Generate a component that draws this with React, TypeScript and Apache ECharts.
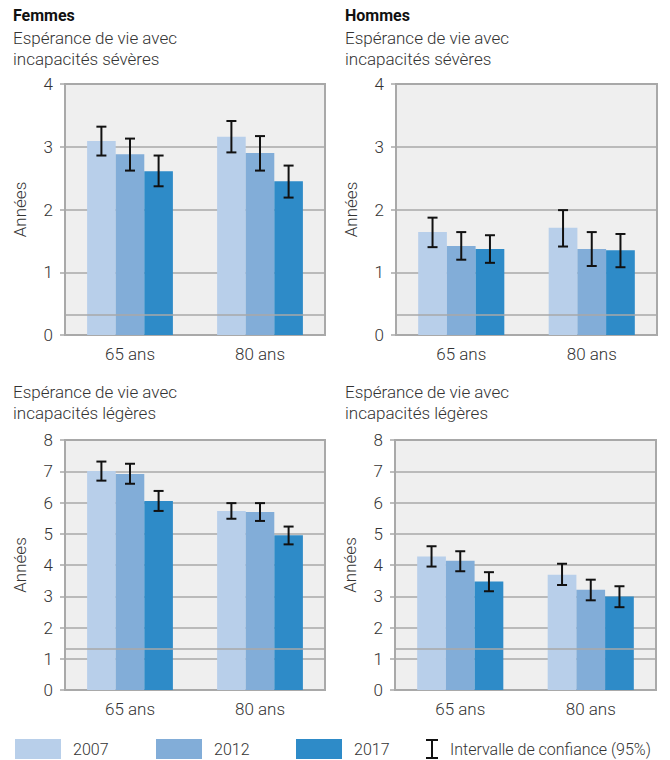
import React, { useEffect, useRef } from "react";
import * as echarts from "echarts";

const categories = ["65 ans", "80 ans"];
const years = ["2007", "2012", "2017"];
const colors = ["#b8cfea", "#82add8", "#2e8bc8"];

// Femmes – incapacités sévères
const fSevVal = [[3.09, 3.16], [2.88, 2.90], [2.61, 2.45]];
const fSevLo = [[2.86, 2.91], [2.62, 2.62], [2.37, 2.19]];
const fSevHi = [[3.32, 3.41], [3.13, 3.17], [2.86, 2.70]];
// Hommes – incapacités sévères
const hSevVal = [[1.64, 1.71], [1.42, 1.37], [1.37, 1.35]];
const hSevLo = [[1.40, 1.41], [1.20, 1.10], [1.15, 1.08]];
const hSevHi = [[1.87, 1.99], [1.64, 1.64], [1.59, 1.61]];
// Femmes – incapacités légères
const fLegVal = [[7.01, 5.73], [6.91, 5.70], [6.05, 4.95]];
const fLegLo = [[6.70, 5.48], [6.60, 5.41], [5.73, 4.66]];
const fLegHi = [[7.31, 5.98], [7.24, 5.98], [6.37, 5.23]];
// Hommes – incapacités légères
const hLegVal = [[4.27, 3.69], [4.14, 3.21], [3.47, 2.99]];
const hLegLo = [[3.95, 3.36], [3.80, 2.87], [3.16, 2.65]];
const hLegHi = [[4.60, 4.04], [4.44, 3.53], [3.77, 3.32]];

const topMax = 4;
const bottomMax = 8;
const topRefLine = 0.333;
const bottomRefLine = 1.333;

const panels = [
  { val: fSevVal, lo: fSevLo, hi: fSevHi, max: topMax, ref: topRefLine },
  { val: hSevVal, lo: hSevLo, hi: hSevHi, max: topMax, ref: topRefLine },
  { val: fLegVal, lo: fLegLo, hi: fLegHi, max: bottomMax, ref: bottomRefLine },
  { val: hLegVal, lo: hLegLo, hi: hLegHi, max: bottomMax, ref: bottomRefLine },
];

const gridPos = [
  { left: 65, top: 84, width: 260, height: 251 },
  { left: 396, top: 84, width: 261, height: 251 },
  { left: 65, top: 440, width: 260, height: 250 },
  { left: 395, top: 440, width: 261, height: 250 },
];

const FONT = "Roboto";
const WEIGHT = 300;
const TXT = "#333333";
const GRIDC = "#a9a9a9";

export default function App() {
  const ref = useRef<HTMLDivElement>(null);
  useEffect(() => {
    const chart = echarts.init(ref.current!, undefined, { renderer: "svg" });

    const grids = gridPos.map((g) => ({
      ...g,
      show: true,
      backgroundColor: "#efefef",
      borderColor: GRIDC,
      borderWidth: 2,
      containLabel: false,
    }));

    const labelStyle = { fontSize: 17, color: TXT, fontFamily: FONT, fontWeight: WEIGHT };

    const xAxes = panels.map((_, i) => ({
      type: "category",
      gridIndex: i,
      data: categories,
      axisLine: { show: true, lineStyle: { color: GRIDC, width: 2 } },
      axisTick: { show: false },
      axisLabel: { ...labelStyle, margin: 10 },
    }));

    const yAxes = panels.map((p, i) => ({
      type: "value",
      gridIndex: i,
      min: 0,
      max: p.max,
      interval: 1,
      name: "Années",
      nameLocation: "middle",
      nameRotate: 90,
      nameGap: 37,
      nameTextStyle: { ...labelStyle },
      axisLine: { show: true, lineStyle: { color: GRIDC, width: 2 } },
      axisTick: { show: true, length: 5, lineStyle: { color: GRIDC, width: 1.5 } },
      splitLine: { show: true, lineStyle: { color: GRIDC, width: 1.5 } },
      axisLabel: { ...labelStyle, margin: 12 },
    }));

    const series: any[] = [];
    panels.forEach((p, i) => {
      years.forEach((y, s) => {
        series.push({
          type: "bar",
          name: y,
          xAxisIndex: i,
          yAxisIndex: i,
          data: p.val[s],
          barWidth: "22%",
          barGap: "0%",
          itemStyle: { color: colors[s] },
          markLine:
            s === 0
              ? {
                  silent: true,
                  symbol: "none",
                  label: { show: false },
                  lineStyle: { color: GRIDC, width: 1.5, type: "solid" },
                  data: [{ yAxis: p.ref }],
                }
              : undefined,
        });
      });
      const errData: number[][] = [];
      years.forEach((_, s) => {
        categories.forEach((_, c) => {
          errData.push([c, p.lo[s][c], p.hi[s][c], s]);
        });
      });
      series.push({
        type: "custom",
        name: "Intervalle de confiance (95%)",
        xAxisIndex: i,
        yAxisIndex: i,
        data: errData,
        z: 10,
        renderItem: (params: any, api: any) => {
          const c = api.value(0);
          const lo = api.value(1);
          const hi = api.value(2);
          const s = api.value(3);
          const pLo = api.coord([c, lo]);
          const pHi = api.coord([c, hi]);
          const band = api.size([1, 0])[0];
          const bw = band * 0.22;
          const x = pLo[0] + (s - 1) * bw;
          const cap = 5;
          const style = { stroke: "#111111", lineWidth: 2 };
          return {
            type: "group",
            children: [
              { type: "line", shape: { x1: x, y1: pLo[1], x2: x, y2: pHi[1] }, style },
              { type: "line", shape: { x1: x - cap, y1: pHi[1], x2: x + cap, y2: pHi[1] }, style },
              { type: "line", shape: { x1: x - cap, y1: pLo[1], x2: x + cap, y2: pLo[1] }, style },
            ],
          };
        },
      });
    });

    const t = (text: string, x: number, y: number, bold = false) => ({
      type: "text",
      left: x,
      top: y,
      style: {
        text,
        fontSize: bold ? 16 : 17,
        fontFamily: FONT,
        fontWeight: bold ? "bold" : WEIGHT,
        fill: bold ? "#111111" : TXT,
      },
    });

    const legendItems: any[] = [];
    const legendX = [15, 156, 296];
    years.forEach((y, s) => {
      legendItems.push({
        type: "rect",
        shape: { x: legendX[s], y: 739, width: 46, height: 20 },
        style: { fill: colors[s] },
      });
      legendItems.push({
        type: "text",
        x: legendX[s] + 58,
        y: 749,
        style: {
          text: y,
          fontSize: 16,
          fontFamily: FONT,
          fontWeight: WEIGHT,
          fill: TXT,
          verticalAlign: "middle",
        },
      });
    });
    const cx = 432;
    const ciStyle = { stroke: "#111111", lineWidth: 2 };
    legendItems.push({ type: "line", shape: { x1: cx, y1: 740, x2: cx, y2: 758 }, style: ciStyle });
    legendItems.push({ type: "line", shape: { x1: cx - 6, y1: 740, x2: cx + 6, y2: 740 }, style: ciStyle });
    legendItems.push({ type: "line", shape: { x1: cx - 6, y1: 758, x2: cx + 6, y2: 758 }, style: ciStyle });
    legendItems.push({
      type: "text",
      x: 450,
      y: 749,
      style: {
        text: "Intervalle de confiance (95%)",
        fontSize: 16,
        fontFamily: FONT,
        fontWeight: WEIGHT,
        fill: TXT,
        verticalAlign: "middle",
      },
    });

    chart.setOption({
      animation: false,
      textStyle: { fontFamily: FONT },
      grid: grids,
      xAxis: xAxes,
      yAxis: yAxes,
      series,
      graphic: [
        t("Femmes", 13, 7, true),
        t("Espérance de vie avec", 13, 29),
        t("incapacités sévères", 13, 50),
        t("Hommes", 345, 7, true),
        t("Espérance de vie avec", 345, 29),
        t("incapacités sévères", 345, 50),
        t("Espérance de vie avec", 13, 383),
        t("incapacités légères", 13, 404),
        t("Espérance de vie avec", 345, 383),
        t("incapacités légères", 345, 404),
        ...legendItems,
      ],
    });
    return () => chart.dispose();
  }, []);
  return (
    <div
      ref={ref}
      style={{ position: "fixed", left: 0, top: 0, width: 670, height: 760, background: "#ffffff" }}
    />
  );
}
